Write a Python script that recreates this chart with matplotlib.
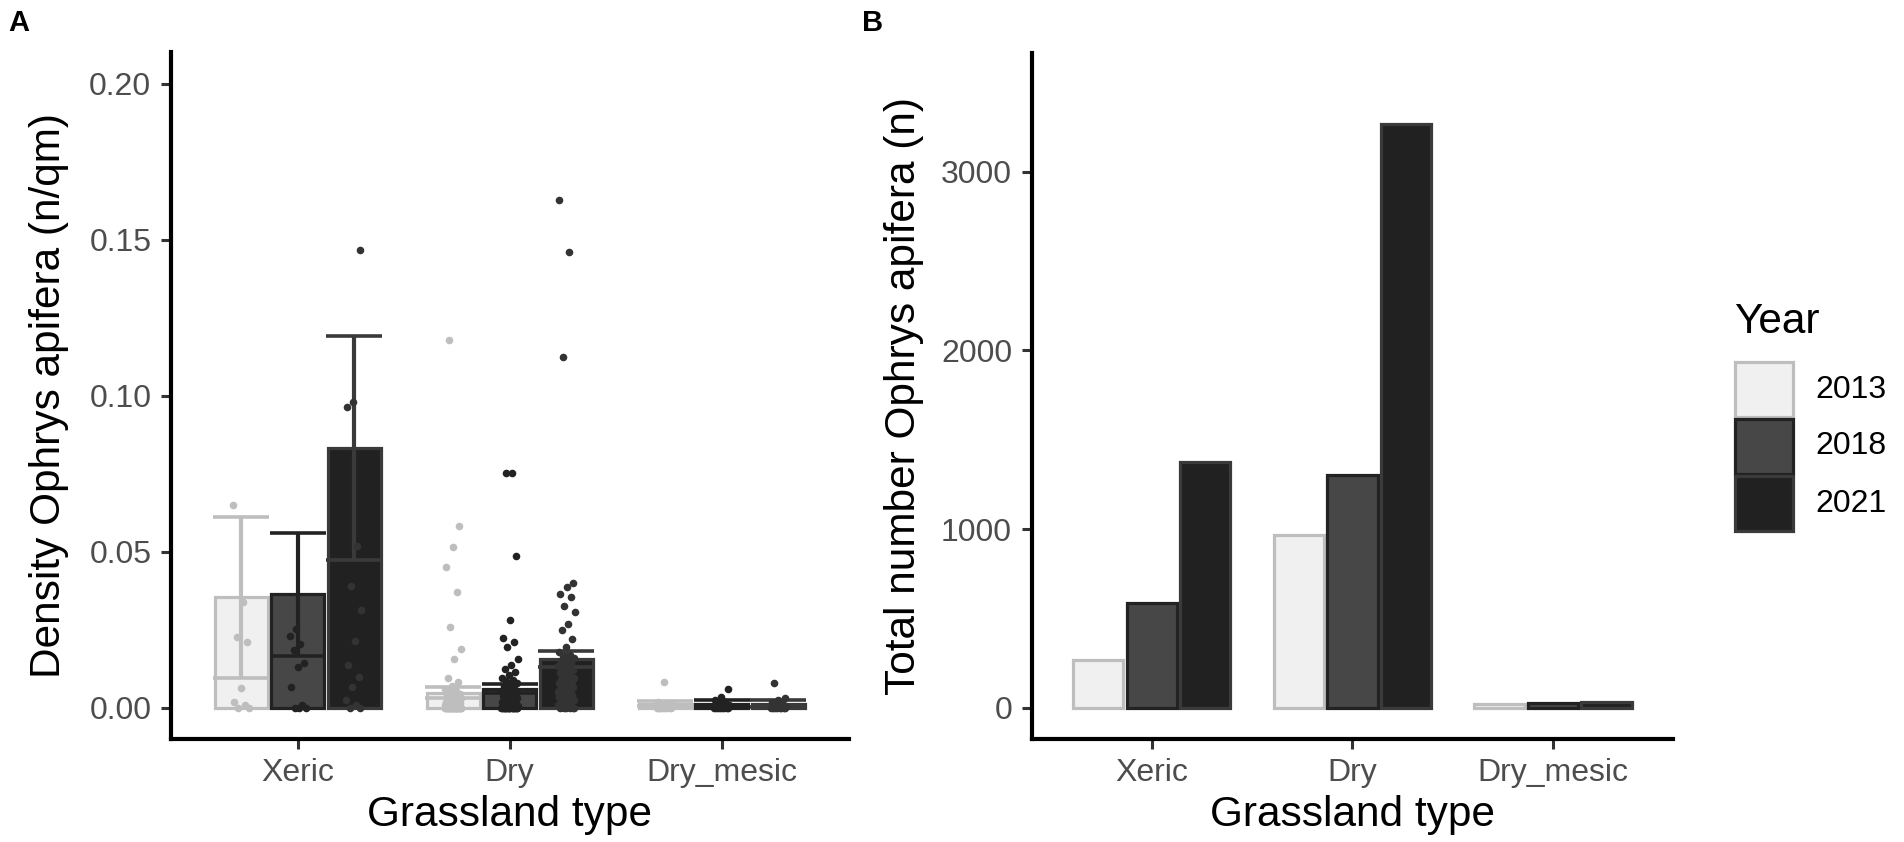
import matplotlib
matplotlib.use("Agg")
import matplotlib.pyplot as plt
from matplotlib.patches import Rectangle
import numpy as np

plt.rcParams["font.family"] = ["Liberation Sans", "DejaVu Sans"]

# categories
grass_types = ["Xeric", "Dry", "Dry_mesic"]
years = ["2013", "2018", "2021"]

# panel A: mean density and error bar bounds, one list per year (Xeric, Dry, Dry_mesic)
dens_mean = [[0.0356, 0.0049, 0.0012],
             [0.0364, 0.0061, 0.0013],
             [0.0834, 0.0157, 0.0013]]
dens_low = [[0.0097, 0.0032, 0.0005],
            [0.0165, 0.0047, 0.0004],
            [0.0474, 0.0131, 0.0004]]
dens_high = [[0.0610, 0.0066, 0.0021],
             [0.0560, 0.0075, 0.0025],
             [0.1190, 0.0183, 0.0025]]

# panel A: single plot densities
xeric_2013 = [0.065, 0.034, 0.0227, 0.021, 0.0065, 0.002, 0.001, 0.0, 0.0]
xeric_2018 = [0.0252, 0.023, 0.0206, 0.0186, 0.0145, 0.0131, 0.0068, 0.001, 0.0, 0.0, 0.0]
xeric_2021 = [0.1466, 0.098, 0.0964, 0.052, 0.0389, 0.0313, 0.0213, 0.0137, 0.010,
              0.0067, 0.0025, 0.001, 0.0, 0.0]
dry_2013 = [0.118, 0.0583, 0.0516, 0.045, 0.037, 0.026, 0.019, 0.0157, 0.0097, 0.0082,
            0.007, 0.006, 0.0055, 0.005, 0.0045, 0.004, 0.004, 0.0035, 0.003, 0.003,
            0.0028, 0.0025, 0.0022, 0.002, 0.002, 0.0018, 0.0015, 0.0015, 0.0012, 0.001,
            0.001, 0.001, 0.0008, 0.0006, 0.0005, 0.0004, 0.0003, 0.0002,
            0.0, 0.0, 0.0, 0.0, 0.0, 0.0, 0.0, 0.0, 0.0, 0.0,
            0.0, 0.0, 0.0, 0.0, 0.0, 0.0, 0.0, 0.0, 0.0, 0.0,
            0.0, 0.0, 0.0, 0.0, 0.0, 0.0, 0.0, 0.0, 0.0, 0.0]
dry_2018 = [0.0754, 0.0754, 0.0485, 0.028, 0.0225, 0.021, 0.0196, 0.0157, 0.0138, 0.0125,
            0.0115, 0.0105, 0.0097, 0.009, 0.0085, 0.008, 0.0075, 0.007, 0.0065, 0.006,
            0.0055, 0.005, 0.0048, 0.0045, 0.004, 0.0038, 0.0035, 0.003, 0.003, 0.0028,
            0.0025, 0.0022, 0.002, 0.002, 0.0018, 0.0015, 0.0012, 0.001, 0.001, 0.0008,
            0.0006, 0.0005, 0.0003,
            0.0, 0.0, 0.0, 0.0, 0.0, 0.0, 0.0, 0.0, 0.0, 0.0,
            0.0, 0.0, 0.0, 0.0, 0.0, 0.0, 0.0, 0.0, 0.0, 0.0]
dry_2021 = [0.1628, 0.146, 0.1125, 0.040, 0.0386, 0.0365, 0.0355, 0.0327, 0.0306, 0.027,
            0.025, 0.022, 0.0196, 0.018, 0.017, 0.0165, 0.016, 0.0155, 0.015, 0.0145,
            0.014, 0.0135, 0.013, 0.0125, 0.012, 0.0115, 0.011, 0.0105, 0.010, 0.0095,
            0.009, 0.0088, 0.0085, 0.008, 0.0078, 0.0075, 0.007, 0.0068, 0.0065, 0.006,
            0.0058, 0.0055, 0.005, 0.0048, 0.0045, 0.004, 0.0038, 0.0035, 0.003, 0.0028,
            0.0025, 0.002, 0.0018, 0.0015, 0.001, 0.0008, 0.0005, 0.0003,
            0.0, 0.0, 0.0, 0.0, 0.0, 0.0]
mesic_2013 = [0.0084, 0.002, 0.0015, 0.001, 0.0008, 0.0005,
              0.0, 0.0, 0.0, 0.0, 0.0, 0.0, 0.0, 0.0, 0.0]
mesic_2018 = [0.006, 0.0035, 0.0025, 0.002, 0.0015, 0.001, 0.0005,
              0.0, 0.0, 0.0, 0.0, 0.0, 0.0, 0.0, 0.0]
mesic_2021 = [0.0081, 0.003, 0.0025, 0.002, 0.0015, 0.001, 0.0005,
              0.0, 0.0, 0.0, 0.0, 0.0, 0.0, 0.0, 0.0]

points = [[xeric_2013, dry_2013, mesic_2013],
          [xeric_2018, dry_2018, mesic_2018],
          [xeric_2021, dry_2021, mesic_2021]]

# panel B: total number per year (Xeric, Dry, Dry_mesic)
total_n = [[265, 968, 22],
           [585, 1304, 26],
           [1373, 3270, 30]]

# colours per year
fills = ["#F0F0F0", "#474747", "#212121"]
lines = ["#BEBEBE", "#222222", "#3A3A3A"]
dots = ["#BEBEBE", "#222222", "#333333"]

W, H = 1904, 842
fig = plt.figure(figsize=(W / 100, H / 100), dpi=100)


def px_axes(left, right, top, bottom):
    return fig.add_axes([left / W, 1 - bottom / H, (right - left) / W, (bottom - top) / H])


axA = px_axes(170.7, 848.7, 52.5, 739)
axB = px_axes(1031.5, 1673.4, 52.5, 739)

x = np.arange(1, 4)
pitch = 0.8 / 3
bw = 0.25
jit = 0.04

for j in range(3):
    xs = x + (j - 1) * pitch
    mean = np.array(dens_mean[j])
    err = [mean - np.array(dens_low[j]), np.array(dens_high[j]) - mean]
    axA.bar(xs, mean, width=bw, color=fills[j], edgecolor=lines[j], linewidth=2.3, zorder=2)
    axA.errorbar(xs, mean, yerr=err, fmt="none", ecolor=lines[j], elinewidth=3.0,
                 capsize=20, capthick=2.6, zorder=3)
    for i in range(3):
        vals = points[j][i]
        k = np.arange(len(vals))
        dx = jit * (((k * 0.618034 + 0.23 * i + 0.41 * j) % 1.0) * 2 - 1)
        axA.scatter(xs[i] + dx, vals, s=30, color=dots[j], linewidths=0, zorder=4)

    axB.bar(xs, total_n[j], width=bw, color=fills[j], edgecolor=lines[j], linewidth=2.3, zorder=2)


def style(ax):
    for s in ["top", "right"]:
        ax.spines[s].set_visible(False)
    for s in ["left", "bottom"]:
        ax.spines[s].set_linewidth(3.0)
        ax.spines[s].set_color("black")
    ax.tick_params(length=7.5, width=2.2, color="#333333", labelsize=23,
                   labelcolor="#4D4D4D", pad=6.5)
    ax.set_xlim(0.4, 3.6)
    ax.set_xticks(x, grass_types)


style(axA)
axA.set_ylim(-0.01, 0.21)
axA.set_yticks([0.0, 0.05, 0.10, 0.15, 0.20], ["0.00", "0.05", "0.10", "0.15", "0.20"])

style(axB)
axB.set_ylim(-176, 3669)
axB.set_yticks([0, 1000, 2000, 3000], ["0", "1000", "2000", "3000"])

# axis titles
ymid = 1 - (52.5 + 739) / 2 / H
fig.text(48.6 / W, ymid, "Density Ophrys apifera (n/qm)", rotation=90,
         ha="center", va="center", fontsize=30.5)
fig.text(904 / W, ymid, "Total number Ophrys apifera (n)", rotation=90,
         ha="center", va="center", fontsize=30.5)
fig.text((170.7 + 848.7) / 2 / W, 1 - 826 / H, "Grassland type",
         ha="center", va="baseline", fontsize=30.5)
fig.text((1031.5 + 1673.4) / 2 / W, 1 - 826 / H, "Grassland type",
         ha="center", va="baseline", fontsize=30.5)

# panel tags
fig.text(8 / W, 1 - 9 / H, "A", ha="left", va="top", fontsize=21, fontweight="bold")
fig.text(862 / W, 1 - 9 / H, "B", ha="left", va="top", fontsize=21, fontweight="bold")

# legend, drawn in a pixel-coordinate overlay
leg = fig.add_axes([0, 0, 1, 1])
leg.set_xlim(0, W)
leg.set_ylim(H, 0)
leg.axis("off")
leg.text(1734, 333, "Year", ha="left", va="baseline", fontsize=30.5)
key_x, key_w, key_h, key_top, key_gap = 1735, 58, 55, 362, 2
for j, yr in enumerate(years):
    top = key_top + j * (key_h + key_gap)
    leg.add_patch(Rectangle((key_x, top), key_w, key_h, facecolor=fills[j],
                            edgecolor=lines[j], linewidth=2.3))
    leg.text(key_x + key_w + 22, top + key_h / 2, yr, ha="left", va="center", fontsize=23)

fig.savefig("out.png", dpi=100)
